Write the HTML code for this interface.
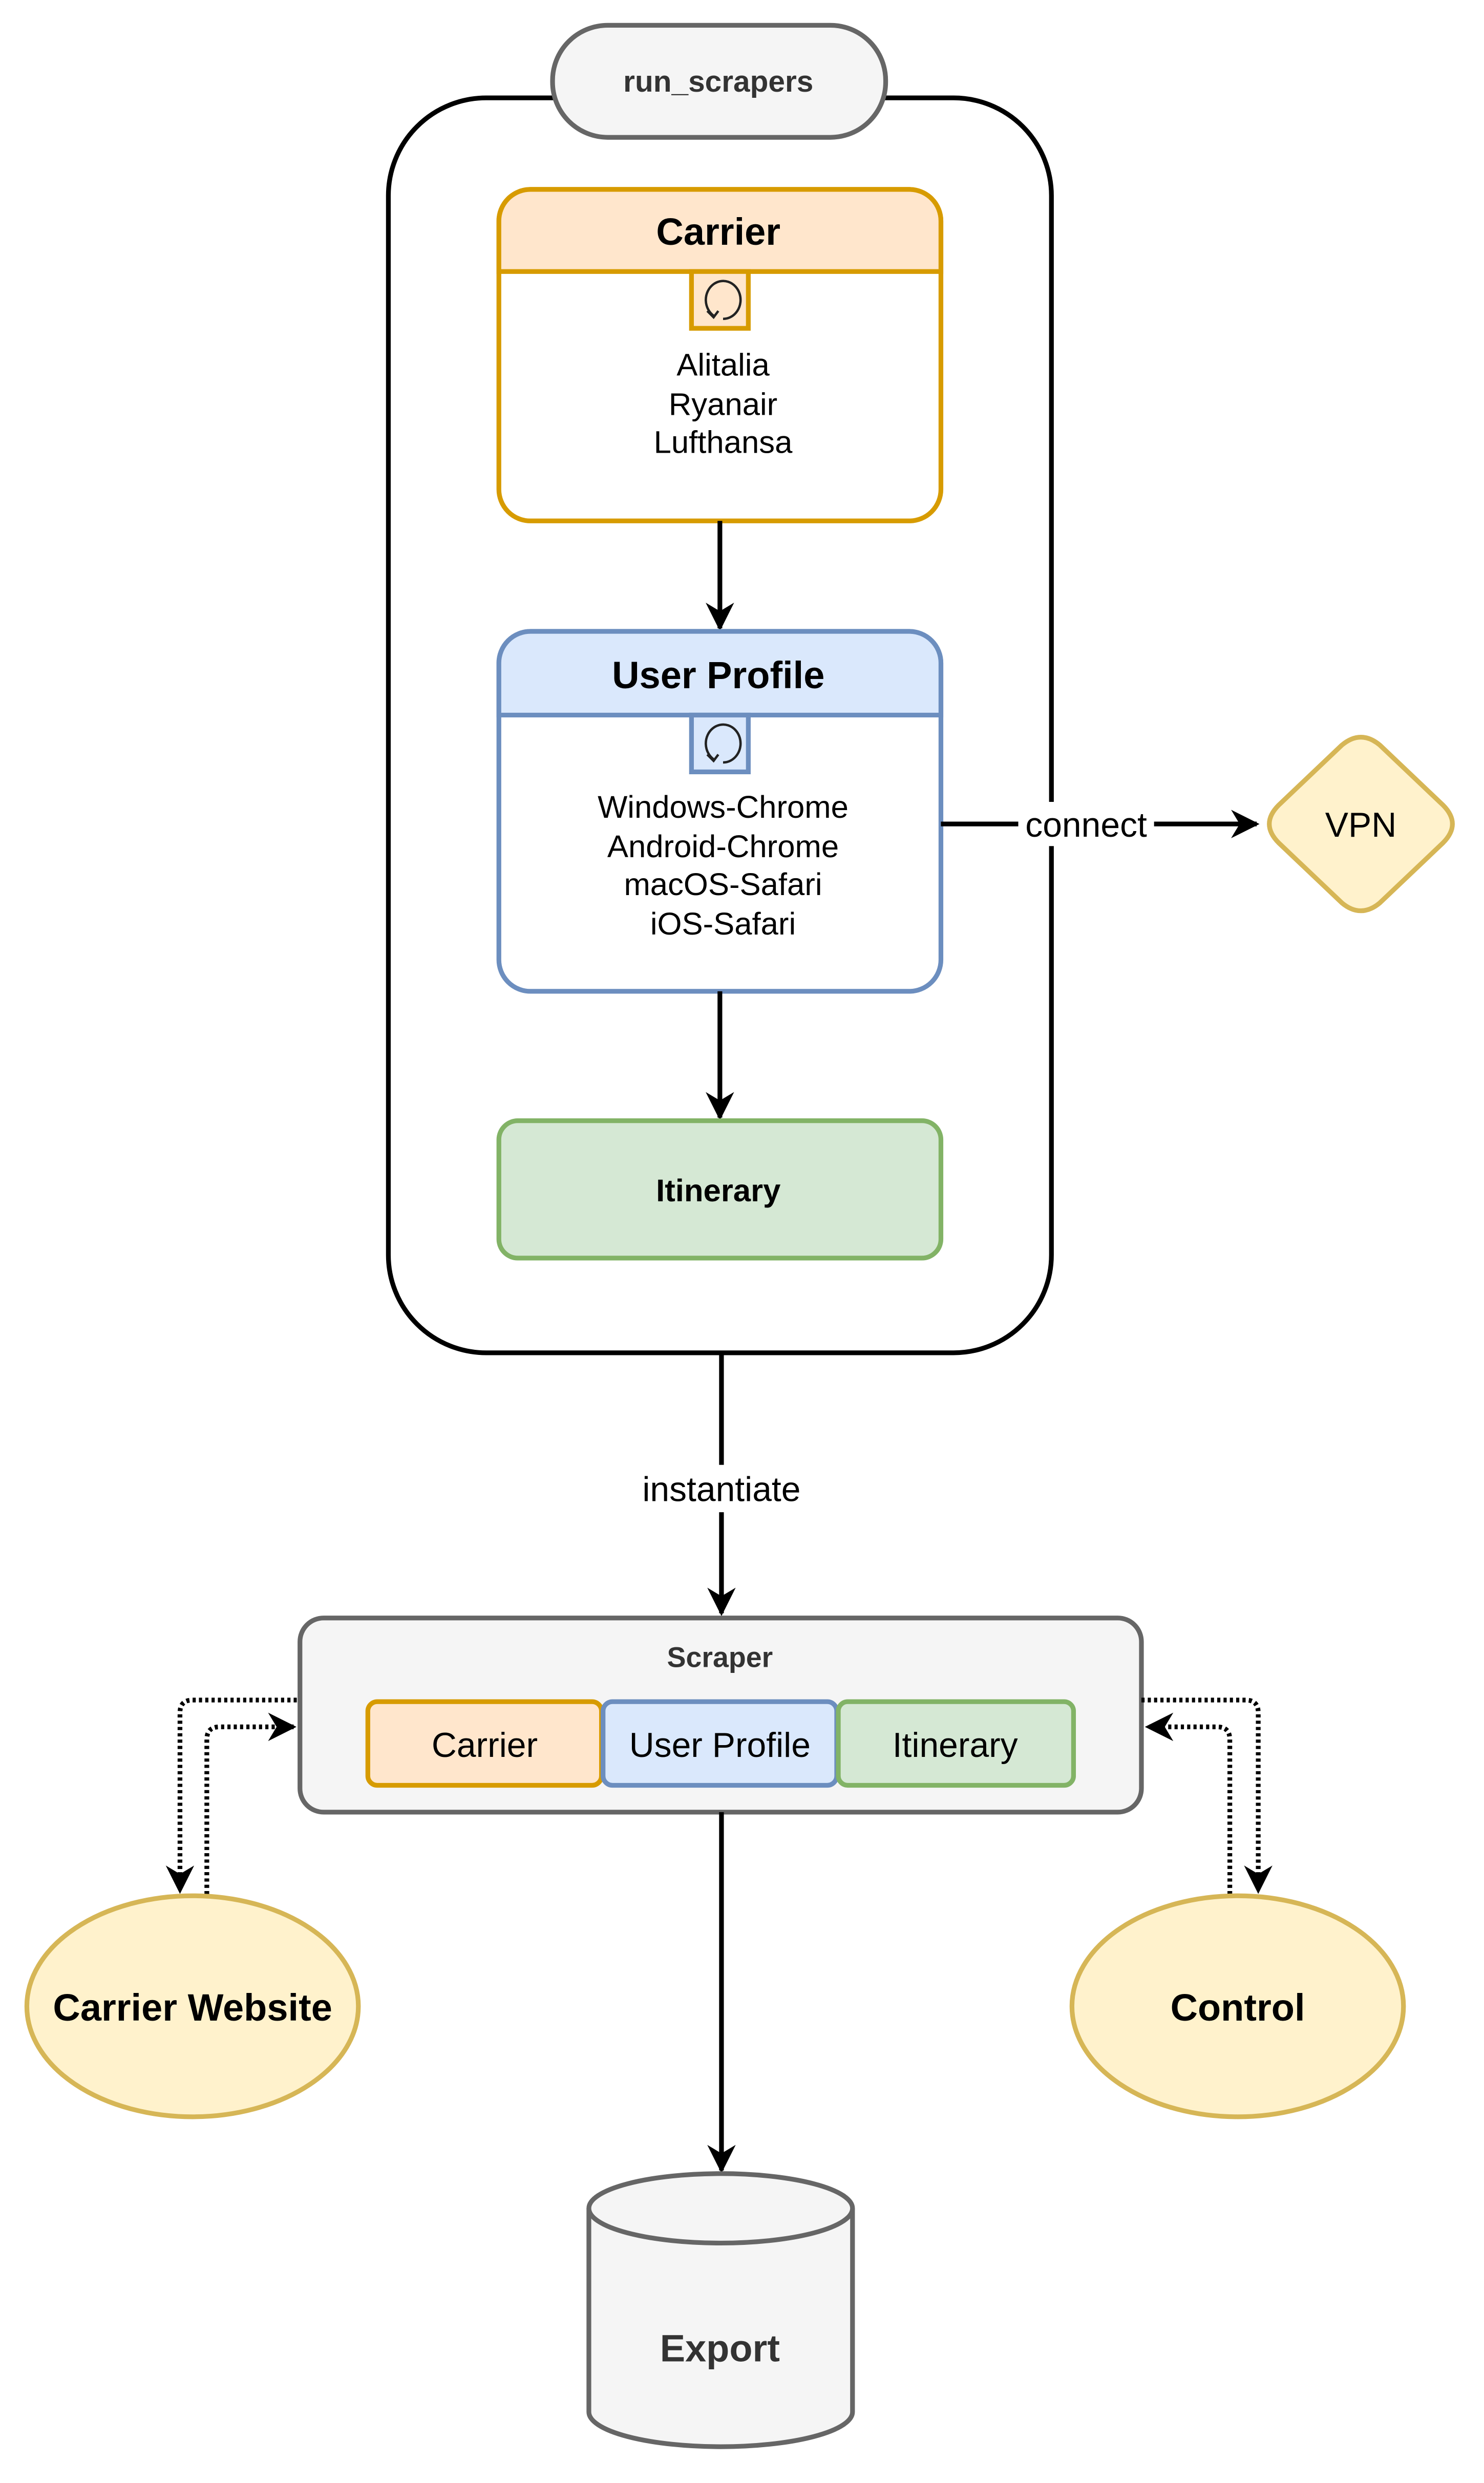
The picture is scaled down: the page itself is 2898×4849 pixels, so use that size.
<!DOCTYPE html>
<html><head><meta charset="utf-8"><style>
html,body{margin:0;padding:0;background:#fff;width:2898px;height:4849px;overflow:hidden}
svg{display:block}
text{font-family:"Liberation Sans",sans-serif}
</style></head><body>
<svg width="2898" height="4849" viewBox="0 0 940 1573" preserveAspectRatio="none" xmlns="http://www.w3.org/2000/svg">
<defs>
<marker id="a" viewBox="0 0 10 10" refX="9" refY="5" markerWidth="7" markerHeight="7" orient="auto" markerUnits="userSpaceOnUse">
<path d="M0,0 L10,5 L0,10 L3,5 z" fill="#000"/></marker>
<marker id="b" viewBox="0 0 10 10" refX="9" refY="5" markerWidth="18" markerHeight="18" orient="auto" markerUnits="userSpaceOnUse">
<path d="M0,0 L10,5 L0,10 L3,5 z" fill="#000"/></marker>
</defs>
<!-- outer container -->
<rect x="246" y="62" width="420" height="795" rx="62" fill="#fff" stroke="#000" stroke-width="3"/>
<rect x="350" y="16" width="211" height="71" rx="35" fill="#f5f5f5" stroke="#666" stroke-width="3"/>
<text x="455" y="58" font-size="19" font-weight="bold" fill="#333" text-anchor="middle">run_scrapers</text>

<!-- Carrier -->
<rect x="316" y="120" width="280" height="210" rx="20" fill="#fff" stroke="#d79b00" stroke-width="3"/>
<path d="M316,172 V140 a20,20 0 0 1 20,-20 H576 a20,20 0 0 1 20,20 V172 z" fill="#ffe6cc" stroke="#d79b00" stroke-width="3"/>
<rect x="438" y="172" width="36" height="36" fill="#ffe6cc" stroke="#d79b00" stroke-width="3"/>
<path d="M452,200 a11,12 0 1 1 6,2" fill="none" stroke="#222" stroke-width="1.5"/><path d="M448,197 l4,4 l3,-4" fill="none" stroke="#222" stroke-width="1.5"/>
<text x="455" y="155" font-size="24" font-weight="bold" text-anchor="middle">Carrier</text>
<text x="458" y="238" font-size="20" text-anchor="middle">Alitalia</text>
<text x="458" y="263" font-size="20" text-anchor="middle">Ryanair</text>
<text x="458" y="287" font-size="20" text-anchor="middle">Lufthansa</text>
<line x1="456" y1="330" x2="456" y2="398" stroke="#000" stroke-width="3" marker-end="url(#b)"/>

<!-- User Profile -->
<rect x="316" y="400" width="280" height="228" rx="20" fill="#fff" stroke="#6c8ebf" stroke-width="3"/>
<path d="M316,453 V420 a20,20 0 0 1 20,-20 H576 a20,20 0 0 1 20,20 V453 z" fill="#dae8fc" stroke="#6c8ebf" stroke-width="3"/>
<rect x="438" y="453" width="36" height="36" fill="#dae8fc" stroke="#6c8ebf" stroke-width="3"/>
<path d="M452,481 a11,12 0 1 1 6,2" fill="none" stroke="#222" stroke-width="1.5"/><path d="M448,478 l4,4 l3,-4" fill="none" stroke="#222" stroke-width="1.5"/>
<text x="455" y="436" font-size="24" font-weight="bold" text-anchor="middle">User Profile</text>
<text x="458" y="518" font-size="20" text-anchor="middle">Windows-Chrome</text>
<text x="458" y="543" font-size="20" text-anchor="middle">Android-Chrome</text>
<text x="458" y="567" font-size="20" text-anchor="middle">macOS-Safari</text>
<text x="458" y="592" font-size="20" text-anchor="middle">iOS-Safari</text>

<!-- connect -->
<line x1="596" y1="522" x2="796" y2="522" stroke="#000" stroke-width="3" marker-end="url(#b)"/>
<rect x="645" y="508" width="86" height="28" fill="#fff"/>
<text x="688" y="530" font-size="22" text-anchor="middle">connect</text>
<path d="M850,472 Q862,462 874,472 L914,510 Q926,522 914,534 L874,572 Q862,582 850,572 L810,534 Q798,522 810,510 z" fill="#fff2cc" stroke="#d6b656" stroke-width="3"/>
<text x="862" y="530" font-size="22" text-anchor="middle">VPN</text>

<line x1="456" y1="628" x2="456" y2="708" stroke="#000" stroke-width="3" marker-end="url(#b)"/>
<rect x="316" y="710" width="280" height="87" rx="12" fill="#d5e8d4" stroke="#82b366" stroke-width="3"/>
<text x="455" y="761" font-size="20" font-weight="bold" text-anchor="middle">Itinerary</text>

<!-- instantiate -->
<line x1="457" y1="857" x2="457" y2="1022" stroke="#000" stroke-width="3" marker-end="url(#b)"/>
<rect x="398" y="928" width="118" height="30" fill="#fff"/>
<text x="457" y="951" font-size="22" text-anchor="middle">instantiate</text>

<!-- Scraper -->
<rect x="190" y="1025" width="533" height="123" rx="15" fill="#f5f5f5" stroke="#666" stroke-width="3"/>
<text x="456" y="1056" font-size="18" font-weight="bold" fill="#333" text-anchor="middle">Scraper</text>
<rect x="233" y="1078" width="148" height="53" rx="6" fill="#ffe6cc" stroke="#d79b00" stroke-width="3"/>
<text x="307" y="1113" font-size="22" text-anchor="middle">Carrier</text>
<rect x="382" y="1078" width="148" height="53" rx="6" fill="#dae8fc" stroke="#6c8ebf" stroke-width="3"/>
<text x="456" y="1113" font-size="22" text-anchor="middle">User Profile</text>
<rect x="531" y="1078" width="149" height="53" rx="6" fill="#d5e8d4" stroke="#82b366" stroke-width="3"/>
<text x="605" y="1113" font-size="22" text-anchor="middle">Itinerary</text>

<!-- dotted -->
<g fill="none" stroke="#000" stroke-width="3" stroke-dasharray="2,2">
<path d="M188,1077 H122 Q114,1077 114,1085 V1198" marker-end="url(#b)"/>
<path d="M131,1200 V1102 Q131,1094 139,1094 H186" marker-end="url(#b)"/>
<path d="M723,1077 H789 Q797,1077 797,1085 V1198" marker-end="url(#b)"/>
<path d="M779,1200 V1102 Q779,1094 771,1094 H727" marker-end="url(#b)"/>
</g>

<ellipse cx="122" cy="1271" rx="105" ry="70" fill="#fff2cc" stroke="#d6b656" stroke-width="3"/>
<text x="122" y="1280" font-size="24" font-weight="bold" text-anchor="middle">Carrier Website</text>
<ellipse cx="784" cy="1271" rx="105" ry="70" fill="#fff2cc" stroke="#d6b656" stroke-width="3"/>
<text x="784" y="1280" font-size="24" font-weight="bold" text-anchor="middle">Control</text>

<line x1="457" y1="1148" x2="457" y2="1375" stroke="#000" stroke-width="3" marker-end="url(#b)"/>
<path d="M373,1399 V1528 A83.5,22 0 0 0 540,1528 V1399" fill="#f5f5f5" stroke="#666" stroke-width="3"/>
<ellipse cx="456.5" cy="1399" rx="83.5" ry="22" fill="#f5f5f5" stroke="#666" stroke-width="3"/>
<text x="456" y="1496" font-size="24" font-weight="bold" fill="#333" text-anchor="middle">Export</text>
</svg>
</body></html>
